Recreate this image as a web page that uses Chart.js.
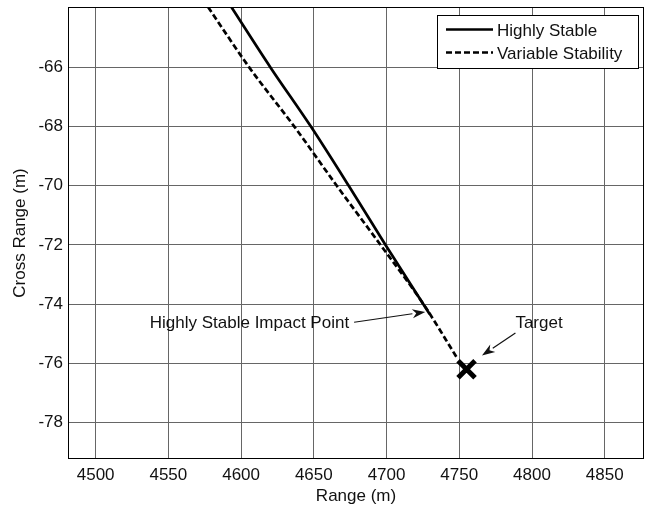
<!DOCTYPE html>
<html lang="en">
<head>
<meta charset="UTF-8">
<title>Impact Trajectories</title>
<script src="https://cdn.jsdelivr.net/npm/chart.js@4.4.1/dist/chart.umd.min.js"></script>
<style>
  html, body { margin: 0; padding: 0; background: #fff; overflow: hidden; }
  canvas { display: block; }
</style>
</head>
<body>
<canvas id="trajChart" width="645" height="509"></canvas>
<script>
// ground tracks near impact: range (m) vs cross range (m)
var stableRange = [4593.3, 4620.2, 4648.0, 4674.0, 4699.3, 4729.6];
var stableCross = [-63.96, -66, -68, -70, -72, -74.33];
var variableRange = [4577.3, 4605.6, 4636.6, 4665.8, 4695.9, 4725.4, 4748.3];
var variableCross = [-63.96, -66, -68, -70, -72, -74, -75.8];
var targetRange = [4755];
var targetCross = [-76.2];

var seriesNames = ['Highly Stable', 'Variable Stability'];
var rangeTicks = [4500, 4550, 4600, 4650, 4700, 4750, 4800, 4850];
var crossTicks = [-66, -68, -70, -72, -74, -76, -78];

// callout text and where its arrow starts / points (data units)
var calloutText = ['Highly Stable Impact Point', 'Target'];
var calloutAt = [[4537.2, -74.63], [4788.6, -74.65]];
var arrowFrom = [[4677.7, -74.61], [4788.6, -74.97]];
var arrowTo = [[4726.6, -74.26], [4765.6, -75.73]];

var FONT = '"Liberation Sans", Arial, sans-serif';
var INK = '#111';

function zip(xs, ys) {
  return xs.map(function (x, i) { return { x: x, y: ys[i] }; });
}

var framePlugin = {
  id: 'frame',
  afterDatasetsDraw: function (chart) {
    var ctx = chart.ctx, a = chart.chartArea;
    ctx.save();
    ctx.strokeStyle = '#000';
    ctx.lineWidth = 1;
    ctx.strokeRect(a.left + 0.5, a.top + 0.5, a.right - a.left - 1, a.bottom - a.top - 1);
    ctx.restore();
  }
};

var calloutPlugin = {
  id: 'callouts',
  afterDatasetsDraw: function (chart) {
    var ctx = chart.ctx, xs = chart.scales.x, ys = chart.scales.y;
    ctx.save();
    ctx.font = '17px ' + FONT;
    ctx.textBaseline = 'middle';
    ctx.textAlign = 'left';
    calloutText.forEach(function (t, i) {
      ctx.fillStyle = INK;
      ctx.fillText(t, xs.getPixelForValue(calloutAt[i][0]), ys.getPixelForValue(calloutAt[i][1]));
      var x0 = xs.getPixelForValue(arrowFrom[i][0]), y0 = ys.getPixelForValue(arrowFrom[i][1]);
      var x1 = xs.getPixelForValue(arrowTo[i][0]), y1 = ys.getPixelForValue(arrowTo[i][1]);
      var ang = Math.atan2(y1 - y0, x1 - x0);
      var len = 13, half = 4.5;
      var bx = x1 - len * Math.cos(ang), by = y1 - len * Math.sin(ang);
      ctx.strokeStyle = INK;
      ctx.lineWidth = 1.2;
      ctx.beginPath();
      ctx.moveTo(x0, y0);
      ctx.lineTo(bx, by);
      ctx.stroke();
      ctx.beginPath();
      ctx.moveTo(x1, y1);
      ctx.lineTo(bx - half * Math.sin(ang), by + half * Math.cos(ang));
      ctx.lineTo(x1 - 0.7 * len * Math.cos(ang), y1 - 0.7 * len * Math.sin(ang));
      ctx.lineTo(bx + half * Math.sin(ang), by - half * Math.cos(ang));
      ctx.closePath();
      ctx.fill();
    });
    ctx.restore();
  }
};

// boxed legend in the upper right corner of the plot
var boxLegendPlugin = {
  id: 'boxLegend',
  afterDraw: function (chart) {
    var ctx = chart.ctx, a = chart.chartArea;
    var w = 201, h = 53;
    var left = a.right - 6 - w, top = a.top + 8;
    ctx.save();
    ctx.fillStyle = '#fff';
    ctx.fillRect(left, top, w, h);
    ctx.strokeStyle = '#000';
    ctx.lineWidth = 1;
    ctx.strokeRect(left + 0.5, top + 0.5, w, h);
    ctx.font = '17px ' + FONT;
    ctx.textBaseline = 'middle';
    ctx.fillStyle = INK;
    [0, 1].forEach(function (i) {
      var ds = chart.data.datasets[i];
      var yy = top + 14.5 + i * 23;
      ctx.strokeStyle = '#000';
      ctx.lineWidth = ds.borderWidth;
      ctx.setLineDash(ds.borderDash || []);
      ctx.beginPath();
      ctx.moveTo(left + 9, yy);
      ctx.lineTo(left + 56, yy);
      ctx.stroke();
      ctx.setLineDash([]);
      ctx.fillText(ds.label, left + 60, yy + 2);
    });
    ctx.restore();
  }
};

new Chart(document.getElementById('trajChart'), {
  type: 'scatter',
  data: {
    datasets: [
      {
        label: seriesNames[0],
        data: zip(stableRange, stableCross),
        showLine: true,
        borderColor: '#000',
        borderWidth: 2.7,
        pointRadius: 0,
        cubicInterpolationMode: 'monotone'
      },
      {
        label: seriesNames[1],
        data: zip(variableRange, variableCross),
        showLine: true,
        borderColor: '#000',
        borderWidth: 2.7,
        borderDash: [6, 3],
        pointRadius: 0,
        cubicInterpolationMode: 'monotone'
      },
      {
        label: 'Target',
        data: zip(targetRange, targetCross),
        showLine: false,
        pointStyle: 'crossRot',
        pointRadius: 12,
        pointBorderWidth: 5,
        pointBorderColor: '#000',
        borderColor: '#000'
      }
    ]
  },
  options: {
    responsive: false,
    animation: false,
    layout: { autoPadding: false, padding: { top: 7, right: 1, left: 0, bottom: 0 } },
    plugins: {
      legend: { display: false },
      tooltip: { enabled: false }
    },
    scales: {
      x: {
        type: 'linear',
        min: 4481,
        max: 4877,
        afterBuildTicks: function (s) {
          s.ticks = rangeTicks.map(function (v) { return { value: v }; });
        },
        afterFit: function (s) {
          s.height = 50;
          s.paddingLeft = 0;
          s.paddingRight = 0;
        },
        grid: { color: '#666', lineWidth: 1, borderDash: [2, 1], drawTicks: false },
        border: { display: false },
        ticks: {
          padding: 6,
          color: INK,
          font: { family: FONT, size: 17 },
          maxRotation: 0,
          callback: function (v) { return String(v); }
        },
        title: {
          display: true,
          text: 'Range (m)',
          color: INK,
          font: { family: FONT, size: 17 },
          padding: { top: 0, bottom: 2 }
        }
      },
      y: {
        type: 'linear',
        min: -79.23,
        max: -63.96,
        afterBuildTicks: function (s) {
          s.ticks = crossTicks.map(function (v) { return { value: v }; });
        },
        afterFit: function (s) {
          s.width = 68;
          s.paddingTop = 0;
          s.paddingBottom = 0;
        },
        grid: { color: '#666', lineWidth: 1, borderDash: [2, 1], drawTicks: false },
        border: { display: false },
        ticks: {
          padding: 5,
          color: INK,
          font: { family: FONT, size: 17 },
          callback: function (v) { return String(v); }
        },
        title: {
          display: true,
          text: 'Cross Range (m)',
          color: INK,
          font: { family: FONT, size: 17 },
          padding: { top: 10, bottom: 0 }
        }
      }
    }
  },
  plugins: [framePlugin, calloutPlugin, boxLegendPlugin]
});
</script>
</body>
</html>
